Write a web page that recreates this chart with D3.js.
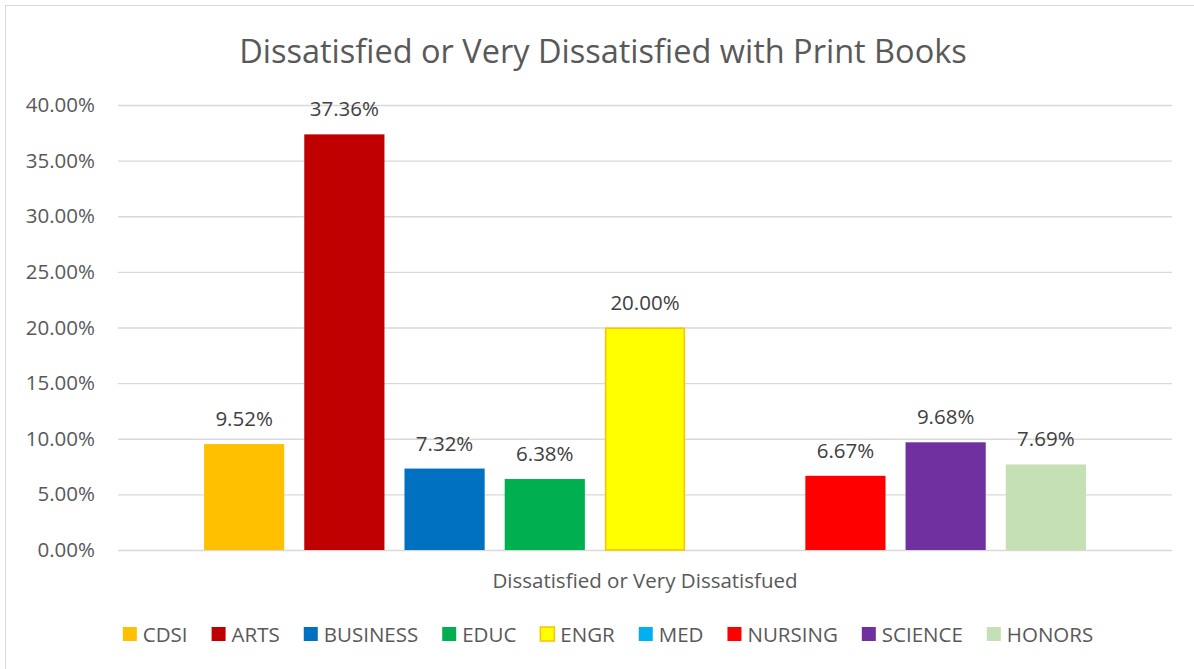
<!DOCTYPE html>
<html><head><meta charset="utf-8">
<script src="https://cdn.jsdelivr.net/npm/d3@7"></script>
<style>
html,body{margin:0;padding:0;background:#fff;}
svg{display:block;font-family:"Open Sans", sans-serif;}
</style></head>
<body><svg id="c" width="1194" height="669"></svg>
<script>
const categories = ["Dissatisfied or Very Dissatisfued"];
const series = ["CDSI","ARTS","BUSINESS","EDUC","ENGR","MED","NURSING","SCIENCE","HONORS"];
const values = [0.0952, 0.3736, 0.0732, 0.0638, 0.2000, null, 0.0667, 0.0968, 0.0769];
const colors = ["#FFC000","#C00000","#0070C0","#00B050","#FFFF00","#00B0F0","#FF0000","#7030A0","#C5E0B4"];
const strokes = [null,null,null,null,"#FFC000",null,null,null,null];
const yTicks = [0,0.05,0.10,0.15,0.20,0.25,0.30,0.35,0.40];
const title = "Dissatisfied or Very Dissatisfied with Print Books";

const svg = d3.select("#c");
const W=1194,H=669;
const plot = {left:118,right:1172,top:105,bottom:550};
const FONT = "'Open Sans', sans-serif";
const FS = 20.5;

svg.append("rect").attr("x",5.5).attr("y",5.5).attr("width",W).attr("height",H)
  .attr("fill","#fff").attr("stroke","#d9d9d9").attr("stroke-width",1);

svg.append("text").attr("x",603).attr("y",50).attr("text-anchor","middle")
  .attr("dominant-baseline","central").attr("font-size",32.5).attr("fill","#595959").text(title);

const y = d3.scaleLinear().domain([0,0.4]).range([plot.bottom,plot.top]);
const x0 = d3.scaleBand().domain(categories).range([plot.left,plot.right]).paddingInner(0).paddingOuter(0.0843);
const x1 = d3.scaleBand().domain(series).range([0,x0.bandwidth()]).paddingInner(0.2).paddingOuter(0.1);

const yAxis = d3.axisLeft(y).tickValues(yTicks).tickSize(-(plot.right-plot.left)).tickFormat(d3.format(".2%")).tickPadding(23);
const ga = svg.append("g").attr("transform",`translate(${plot.left},0)`).call(yAxis);
ga.select(".domain").remove();
ga.selectAll(".tick line").attr("stroke","#d9d9d9").attr("stroke-width",1.3);
ga.selectAll(".tick text").attr("font-size",FS).attr("fill","#595959").attr("font-family",FONT);

const g = svg.append("g");
categories.forEach(cat=>{
  const gg = g.append("g").attr("transform",`translate(${x0(cat)},0)`);
  const data = series.map((s,i)=>({s,v:values[i],c:colors[i],st:strokes[i]})).filter(d=>d.v!=null);
  gg.selectAll("rect").data(data).join("rect")
    .attr("x",d=>x1(d.s)+(d.st?0.75:0)).attr("width",d=>x1.bandwidth()-(d.st?1.5:0))
    .attr("y",d=>y(d.v)+(d.st?0.75:0)).attr("height",d=>y(0)-y(d.v)-(d.st?0.75:0))
    .attr("fill",d=>d.c).attr("stroke",d=>d.st||"none").attr("stroke-width",1.5);
  gg.selectAll("text.lbl").data(data).join("text").attr("class","lbl")
    .attr("x",d=>x1(d.s)+x1.bandwidth()/2).attr("y",d=>y(d.v)-26)
    .attr("text-anchor","middle").attr("dominant-baseline","central")
    .attr("font-size",FS).attr("fill","#404040").text(d=>d3.format(".2%")(d.v));
  svg.append("text").attr("x",x0(cat)+x0.bandwidth()/2).attr("y",580).attr("text-anchor","middle")
    .attr("dominant-baseline","central").attr("font-size",FS).attr("fill","#595959").text(cat);
});

const lg = svg.append("g");
const items = lg.selectAll("g").data(series.map((s,i)=>({s,c:colors[i],st:strokes[i]}))).join("g");
items.append("rect").attr("width",14).attr("height",14).attr("y",-7)
  .attr("fill",d=>d.c).attr("stroke",d=>d.st||"none").attr("stroke-width",1.5);
items.append("text").attr("x",20).attr("dominant-baseline","central").attr("font-size",FS).attr("fill","#595959").text(d=>d.s);
const GAP = 24;
let xs=0; const pos=[];
items.each(function(){ pos.push(xs); xs += 20 + d3.select(this).select("text").node().getComputedTextLength() + GAP; });
const total = xs-GAP;
const startX = 608 - total/2;
items.attr("transform",(d,i)=>`translate(${startX+pos[i]},634)`);
</script></body></html>
